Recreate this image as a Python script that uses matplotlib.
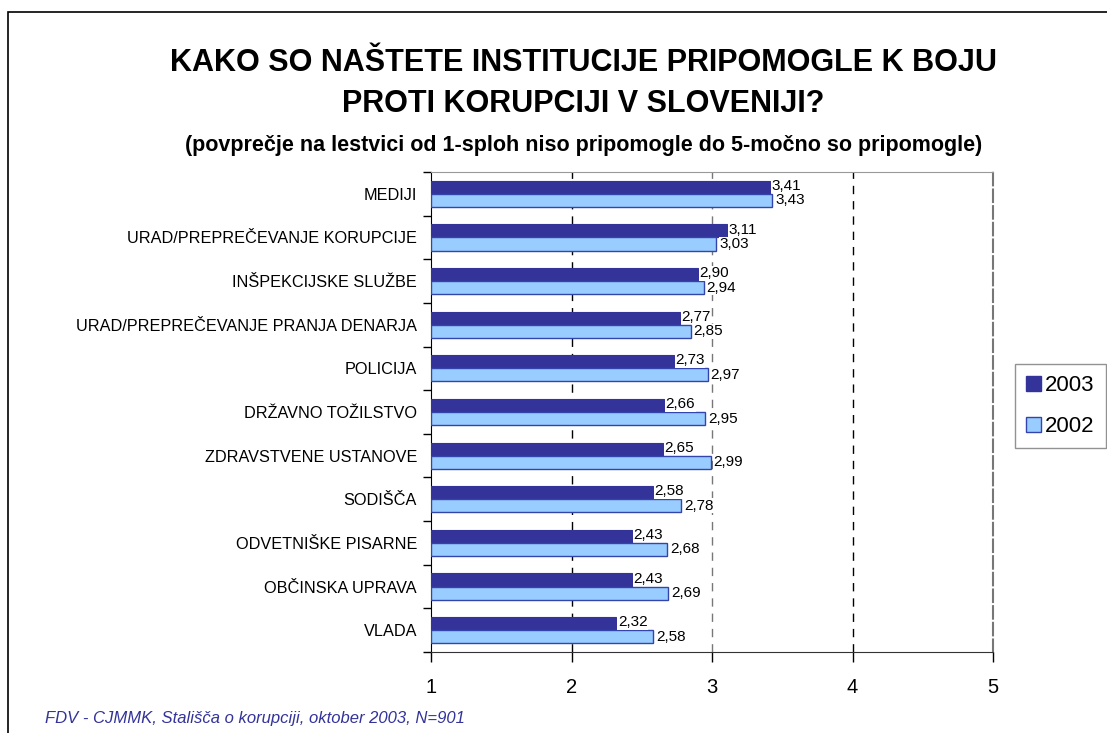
import matplotlib.pyplot as plt
import matplotlib.patches as mpatches
import numpy as np

plt.rcParams['font.family'] = ['Liberation Sans', 'DejaVu Sans']

# Podatki
kategorije = ['MEDIJI', 'URAD/PREPREČEVANJE KORUPCIJE', 'INŠPEKCIJSKE SLUŽBE',
              'URAD/PREPREČEVANJE PRANJA DENARJA', 'POLICIJA', 'DRŽAVNO TOŽILSTVO',
              'ZDRAVSTVENE USTANOVE', 'SODIŠČA', 'ODVETNIŠKE PISARNE',
              'OBČINSKA UPRAVA', 'VLADA']
leto_2003 = [3.41, 3.11, 2.90, 2.77, 2.73, 2.66, 2.65, 2.58, 2.43, 2.43, 2.32]
leto_2002 = [3.43, 3.03, 2.94, 2.85, 2.97, 2.95, 2.99, 2.78, 2.68, 2.69, 2.58]
x_ticki = [1, 2, 3, 4, 5]

W, H = 1107, 733
fig = plt.figure(figsize=(W / 100, H / 100), dpi=100)

# okvir slike
fig.patches.append(mpatches.Rectangle((8 / W, -0.1), 1.2, 1 - 12 / H + 0.1,
                                      transform=fig.transFigure, fill=False,
                                      edgecolor='black', linewidth=1.2))

ax = fig.add_axes([431 / W, 1 - 652 / H, (993 - 431) / W, (652 - 172) / H])

y = np.arange(len(kategorije))
h = 0.3
temna, svetla = '#333399', '#99ccff'
ax.barh(y - h / 2, np.array(leto_2003) - 1, height=h, left=1, color=temna,
        edgecolor='#333399', linewidth=0.8, zorder=3)
ax.barh(y + h / 2, np.array(leto_2002) - 1, height=h, left=1, color=svetla,
        edgecolor='#3344aa', linewidth=1.0, zorder=3)

for i in range(len(kategorije)):
    ax.annotate(f'{leto_2003[i]:.2f}'.replace('.', ','), (leto_2003[i], y[i] - h / 2),
                xytext=(1, 1), textcoords='offset points', ha='left', va='center',
                fontsize=11, zorder=4,
                bbox=dict(facecolor='white', edgecolor='none', pad=0.3))
    ax.annotate(f'{leto_2002[i]:.2f}'.replace('.', ','), (leto_2002[i], y[i] + h / 2),
                xytext=(2, 0), textcoords='offset points', ha='left', va='center',
                fontsize=11, zorder=4,
                bbox=dict(facecolor='white', edgecolor='none', pad=0.3))

ax.set_xlim(1, 5)
ax.set_ylim(len(kategorije) - 0.5, -0.5)

# mreža
for xv, c in [(2, 'black'), (3, '#777777'), (4, 'black')]:
    ax.axvline(xv, color=c, linestyle=(0, (6, 5)), linewidth=1.0, zorder=1)

ax.set_xticks(x_ticki)
ax.set_xticklabels([str(v) for v in x_ticki], fontsize=14.5)
ax.tick_params(axis='x', direction='out', length=7, width=1, pad=12)

ax.set_yticks(np.arange(len(kategorije) + 1) - 0.5)
ax.set_yticklabels([])
ax.tick_params(axis='y', which='major', direction='out', length=6, width=1)
ax.set_yticks(y, minor=True)
ax.set_yticklabels(kategorije, minor=True, fontsize=11.7)
ax.tick_params(axis='y', which='minor', length=0, pad=10)

ax.spines['left'].set_color('black')
ax.spines['bottom'].set_color('#333333')
ax.spines['top'].set_color('#999999')
ax.spines['right'].set_color('#777777')
ax.spines['right'].set_linestyle((0, (6, 2)))
ax.spines['right'].set_linewidth(1.5)

# naslov
fig.text(583 / W, 1 - 63 / H, 'KAKO SO NAŠTETE INSTITUCIJE PRIPOMOGLE K BOJU',
         ha='center', va='center', fontsize=22, fontweight='bold')
fig.text(583 / W, 1 - 104 / H, 'PROTI KORUPCIJI V SLOVENIJI?',
         ha='center', va='center', fontsize=22, fontweight='bold')
fig.text(584 / W, 1 - 145 / H,
         '(povprečje na lestvici od 1-sploh niso pripomogle do 5-močno so pripomogle)',
         ha='center', va='center', fontsize=15.5, fontweight='bold')

# vir
fig.text(45 / W, 1 - 718 / H, 'FDV - CJMMK, Stališča o korupciji, oktober 2003, N=901',
         ha='left', va='center', fontsize=12, style='italic', color='#333399')

# legenda
handles = [mpatches.Patch(facecolor=temna, edgecolor='#333399', label='2003'),
           mpatches.Patch(facecolor=svetla, edgecolor='#3344aa', label='2002')]
fig.legend(handles=handles, loc='upper left', bbox_to_anchor=(1015 / W, 1 - 364 / H),
           fontsize=16, frameon=True, fancybox=False, edgecolor='#777777',
           handlelength=0.65, handleheight=0.65, handletextpad=0.2,
           borderpad=0.5, labelspacing=0.9, borderaxespad=0)

fig.savefig('out.png', dpi=100)
